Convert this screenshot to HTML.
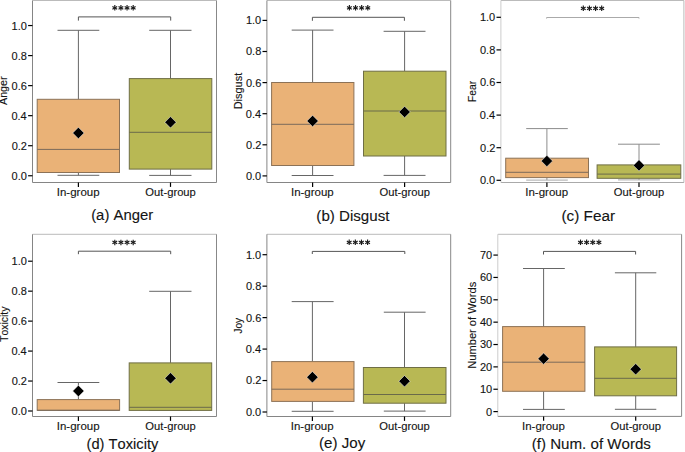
<!DOCTYPE html>
<html><head><meta charset="utf-8"><style>
html,body{margin:0;padding:0;background:#fff;}
body{width:685px;height:452px;overflow:hidden;}
svg{display:block;font-family:"Liberation Sans", sans-serif;font-kerning:none;}
text{stroke:#141414;stroke-width:0.12px;}
</style></head><body>
<svg width="685" height="452" viewBox="0 0 685 452">
<rect width="685" height="452" fill="#fff"/>
<line x1="32.50" y1="0.50" x2="216.50" y2="0.50" stroke="#bbb" stroke-width="1.0"/>
<line x1="216.50" y1="0.50" x2="216.50" y2="182.50" stroke="#888" stroke-width="1.0"/>
<line x1="32.50" y1="182.50" x2="216.50" y2="182.50" stroke="#858585" stroke-width="1.0"/>
<line x1="32.50" y1="0.50" x2="32.50" y2="182.50" stroke="#858585" stroke-width="1.0"/>
<line x1="28.10" y1="175.75" x2="32.50" y2="175.75" stroke="#000" stroke-width="1.2"/>
<text x="11.54" y="179.70" font-size="11.0" fill="#141414">0.0</text>
<line x1="28.10" y1="145.71" x2="32.50" y2="145.71" stroke="#000" stroke-width="1.2"/>
<text x="11.66" y="149.66" font-size="11.0" fill="#141414">0.2</text>
<line x1="28.10" y1="115.67" x2="32.50" y2="115.67" stroke="#000" stroke-width="1.2"/>
<text x="11.43" y="119.62" font-size="11.0" fill="#141414">0.4</text>
<line x1="28.10" y1="85.63" x2="32.50" y2="85.63" stroke="#000" stroke-width="1.2"/>
<text x="11.59" y="89.58" font-size="11.0" fill="#141414">0.6</text>
<line x1="28.10" y1="55.59" x2="32.50" y2="55.59" stroke="#000" stroke-width="1.2"/>
<text x="11.59" y="59.54" font-size="11.0" fill="#141414">0.8</text>
<line x1="28.10" y1="25.55" x2="32.50" y2="25.55" stroke="#000" stroke-width="1.2"/>
<text x="11.54" y="29.50" font-size="11.0" fill="#141414">1.0</text>
<line x1="78.40" y1="30.30" x2="78.40" y2="99.30" stroke="#666" stroke-width="1.0"/>
<line x1="78.40" y1="172.50" x2="78.40" y2="175.30" stroke="#666" stroke-width="1.0"/>
<line x1="57.50" y1="30.30" x2="99.30" y2="30.30" stroke="#666" stroke-width="1.0"/>
<line x1="57.50" y1="175.30" x2="99.30" y2="175.30" stroke="#666" stroke-width="1.0"/>
<rect x="37.20" y="99.30" width="82.30" height="73.20" fill="#EAB277" stroke="#8c7257" stroke-width="1.0"/>
<line x1="37.20" y1="149.40" x2="119.50" y2="149.40" stroke="#7a6a5a" stroke-width="1.0"/>
<path d="M78.40 127.30L84.10 133.00L78.40 138.70L72.70 133.00Z" fill="#000" stroke="#fff" stroke-width="0.5"/>
<line x1="78.40" y1="182.50" x2="78.40" y2="186.90" stroke="#000" stroke-width="1.2"/>
<line x1="170.50" y1="30.30" x2="170.50" y2="78.60" stroke="#666" stroke-width="1.0"/>
<line x1="170.50" y1="169.10" x2="170.50" y2="175.40" stroke="#666" stroke-width="1.0"/>
<line x1="149.20" y1="30.30" x2="191.50" y2="30.30" stroke="#666" stroke-width="1.0"/>
<line x1="149.20" y1="175.40" x2="191.50" y2="175.40" stroke="#666" stroke-width="1.0"/>
<rect x="129.30" y="78.60" width="82.50" height="90.50" fill="#B8B854" stroke="#6f6e45" stroke-width="1.0"/>
<line x1="129.30" y1="132.30" x2="211.80" y2="132.30" stroke="#6a6a4a" stroke-width="1.0"/>
<path d="M170.50 116.60L176.20 122.30L170.50 128.00L164.80 122.30Z" fill="#000" stroke="#fff" stroke-width="0.5"/>
<line x1="170.50" y1="182.50" x2="170.50" y2="186.90" stroke="#000" stroke-width="1.2"/>
<path d="M78.40 20.60V16.90H170.70V20.60" fill="none" stroke="#555" stroke-width="1"/>
<line x1="114.80" y1="5.05" x2="114.80" y2="10.55" stroke="#1a1a1a" stroke-width="1.15"/>
<line x1="112.42" y1="6.42" x2="117.18" y2="9.17" stroke="#1a1a1a" stroke-width="1.15"/>
<line x1="117.18" y1="6.42" x2="112.42" y2="9.17" stroke="#1a1a1a" stroke-width="1.15"/>
<line x1="120.93" y1="5.05" x2="120.93" y2="10.55" stroke="#1a1a1a" stroke-width="1.15"/>
<line x1="118.55" y1="6.42" x2="123.31" y2="9.17" stroke="#1a1a1a" stroke-width="1.15"/>
<line x1="123.31" y1="6.42" x2="118.55" y2="9.17" stroke="#1a1a1a" stroke-width="1.15"/>
<line x1="127.06" y1="5.05" x2="127.06" y2="10.55" stroke="#1a1a1a" stroke-width="1.15"/>
<line x1="124.68" y1="6.42" x2="129.44" y2="9.17" stroke="#1a1a1a" stroke-width="1.15"/>
<line x1="129.44" y1="6.42" x2="124.68" y2="9.17" stroke="#1a1a1a" stroke-width="1.15"/>
<line x1="133.19" y1="5.05" x2="133.19" y2="10.55" stroke="#1a1a1a" stroke-width="1.15"/>
<line x1="130.81" y1="6.42" x2="135.57" y2="9.17" stroke="#1a1a1a" stroke-width="1.15"/>
<line x1="135.57" y1="6.42" x2="130.81" y2="9.17" stroke="#1a1a1a" stroke-width="1.15"/>
<text x="56.74" y="195.90" font-size="10.9" fill="#141414" textLength="42.84" lengthAdjust="spacingAndGlyphs">In-group</text>
<text x="145.37" y="195.90" font-size="10.9" fill="#141414" textLength="50.50" lengthAdjust="spacingAndGlyphs">Out-group</text>
<text transform="translate(7.40 105.00) rotate(-90)" x="-0.02" y="0" font-size="10.9" fill="#141414" textLength="28.60" lengthAdjust="spacingAndGlyphs">Anger</text>
<text x="91.18" y="220.40" font-size="15.2" fill="#141414" textLength="61.97" lengthAdjust="spacingAndGlyphs">(a) Anger</text>
<line x1="266.90" y1="0.50" x2="450.70" y2="0.50" stroke="#bbb" stroke-width="1.0"/>
<line x1="450.70" y1="0.50" x2="450.70" y2="182.50" stroke="#888" stroke-width="1.0"/>
<line x1="266.90" y1="182.50" x2="450.70" y2="182.50" stroke="#858585" stroke-width="1.0"/>
<line x1="266.90" y1="0.50" x2="266.90" y2="182.50" stroke="#858585" stroke-width="1.0"/>
<line x1="262.50" y1="175.90" x2="266.90" y2="175.90" stroke="#000" stroke-width="1.2"/>
<text x="245.94" y="179.85" font-size="11.0" fill="#141414">0.0</text>
<line x1="262.50" y1="144.80" x2="266.90" y2="144.80" stroke="#000" stroke-width="1.2"/>
<text x="246.06" y="148.75" font-size="11.0" fill="#141414">0.2</text>
<line x1="262.50" y1="113.70" x2="266.90" y2="113.70" stroke="#000" stroke-width="1.2"/>
<text x="245.83" y="117.65" font-size="11.0" fill="#141414">0.4</text>
<line x1="262.50" y1="82.60" x2="266.90" y2="82.60" stroke="#000" stroke-width="1.2"/>
<text x="245.99" y="86.55" font-size="11.0" fill="#141414">0.6</text>
<line x1="262.50" y1="51.50" x2="266.90" y2="51.50" stroke="#000" stroke-width="1.2"/>
<text x="245.99" y="55.45" font-size="11.0" fill="#141414">0.8</text>
<line x1="262.50" y1="20.40" x2="266.90" y2="20.40" stroke="#000" stroke-width="1.2"/>
<text x="245.94" y="24.35" font-size="11.0" fill="#141414">1.0</text>
<line x1="312.60" y1="30.10" x2="312.60" y2="82.50" stroke="#666" stroke-width="1.0"/>
<line x1="312.60" y1="165.50" x2="312.60" y2="175.50" stroke="#666" stroke-width="1.0"/>
<line x1="291.70" y1="30.10" x2="333.50" y2="30.10" stroke="#666" stroke-width="1.0"/>
<line x1="291.70" y1="175.50" x2="333.50" y2="175.50" stroke="#666" stroke-width="1.0"/>
<rect x="271.60" y="82.50" width="82.30" height="83.00" fill="#EAB277" stroke="#8c7257" stroke-width="1.0"/>
<line x1="271.60" y1="124.30" x2="353.90" y2="124.30" stroke="#7a6a5a" stroke-width="1.0"/>
<path d="M312.60 115.30L318.30 121.00L312.60 126.70L306.90 121.00Z" fill="#000" stroke="#fff" stroke-width="0.5"/>
<line x1="312.60" y1="182.50" x2="312.60" y2="186.90" stroke="#000" stroke-width="1.2"/>
<line x1="404.60" y1="31.30" x2="404.60" y2="71.20" stroke="#666" stroke-width="1.0"/>
<line x1="404.60" y1="156.00" x2="404.60" y2="175.40" stroke="#666" stroke-width="1.0"/>
<line x1="383.60" y1="31.30" x2="425.50" y2="31.30" stroke="#666" stroke-width="1.0"/>
<line x1="383.60" y1="175.40" x2="425.50" y2="175.40" stroke="#666" stroke-width="1.0"/>
<rect x="363.50" y="71.20" width="82.50" height="84.80" fill="#B8B854" stroke="#6f6e45" stroke-width="1.0"/>
<line x1="363.50" y1="111.00" x2="446.00" y2="111.00" stroke="#6a6a4a" stroke-width="1.0"/>
<path d="M404.60 106.30L410.30 112.00L404.60 117.70L398.90 112.00Z" fill="#000" stroke="#fff" stroke-width="0.5"/>
<line x1="404.60" y1="182.50" x2="404.60" y2="186.90" stroke="#000" stroke-width="1.2"/>
<path d="M312.40 20.80V17.30H404.40V20.80" fill="none" stroke="#555" stroke-width="1"/>
<line x1="349.40" y1="5.05" x2="349.40" y2="10.55" stroke="#1a1a1a" stroke-width="1.15"/>
<line x1="347.02" y1="6.42" x2="351.78" y2="9.17" stroke="#1a1a1a" stroke-width="1.15"/>
<line x1="351.78" y1="6.42" x2="347.02" y2="9.17" stroke="#1a1a1a" stroke-width="1.15"/>
<line x1="355.53" y1="5.05" x2="355.53" y2="10.55" stroke="#1a1a1a" stroke-width="1.15"/>
<line x1="353.15" y1="6.42" x2="357.91" y2="9.17" stroke="#1a1a1a" stroke-width="1.15"/>
<line x1="357.91" y1="6.42" x2="353.15" y2="9.17" stroke="#1a1a1a" stroke-width="1.15"/>
<line x1="361.66" y1="5.05" x2="361.66" y2="10.55" stroke="#1a1a1a" stroke-width="1.15"/>
<line x1="359.28" y1="6.42" x2="364.04" y2="9.17" stroke="#1a1a1a" stroke-width="1.15"/>
<line x1="364.04" y1="6.42" x2="359.28" y2="9.17" stroke="#1a1a1a" stroke-width="1.15"/>
<line x1="367.79" y1="5.05" x2="367.79" y2="10.55" stroke="#1a1a1a" stroke-width="1.15"/>
<line x1="365.41" y1="6.42" x2="370.17" y2="9.17" stroke="#1a1a1a" stroke-width="1.15"/>
<line x1="370.17" y1="6.42" x2="365.41" y2="9.17" stroke="#1a1a1a" stroke-width="1.15"/>
<text x="290.94" y="195.90" font-size="10.9" fill="#141414" textLength="42.84" lengthAdjust="spacingAndGlyphs">In-group</text>
<text x="379.47" y="195.90" font-size="10.9" fill="#141414" textLength="50.50" lengthAdjust="spacingAndGlyphs">Out-group</text>
<text transform="translate(241.90 108.40) rotate(-90)" x="-0.90" y="0" font-size="10.9" fill="#141414" textLength="36.48" lengthAdjust="spacingAndGlyphs">Disgust</text>
<text x="316.36" y="220.70" font-size="15.2" fill="#141414" textLength="73.05" lengthAdjust="spacingAndGlyphs">(b) Disgust</text>
<line x1="500.90" y1="0.50" x2="683.90" y2="0.50" stroke="#bbb" stroke-width="1.0"/>
<line x1="683.90" y1="0.50" x2="683.90" y2="182.50" stroke="#bbb" stroke-width="1.0"/>
<line x1="500.90" y1="182.50" x2="683.90" y2="182.50" stroke="#aaa" stroke-width="1.0"/>
<line x1="500.90" y1="0.50" x2="500.90" y2="182.50" stroke="#ccc" stroke-width="1.0"/>
<line x1="496.50" y1="180.30" x2="500.90" y2="180.30" stroke="#000" stroke-width="1.2"/>
<text x="479.94" y="184.25" font-size="11.0" fill="#141414">0.0</text>
<line x1="496.50" y1="147.70" x2="500.90" y2="147.70" stroke="#000" stroke-width="1.2"/>
<text x="480.06" y="151.65" font-size="11.0" fill="#141414">0.2</text>
<line x1="496.50" y1="115.10" x2="500.90" y2="115.10" stroke="#000" stroke-width="1.2"/>
<text x="479.83" y="119.05" font-size="11.0" fill="#141414">0.4</text>
<line x1="496.50" y1="82.50" x2="500.90" y2="82.50" stroke="#000" stroke-width="1.2"/>
<text x="479.99" y="86.45" font-size="11.0" fill="#141414">0.6</text>
<line x1="496.50" y1="49.90" x2="500.90" y2="49.90" stroke="#000" stroke-width="1.2"/>
<text x="479.99" y="53.85" font-size="11.0" fill="#141414">0.8</text>
<line x1="496.50" y1="17.30" x2="500.90" y2="17.30" stroke="#000" stroke-width="1.2"/>
<text x="479.94" y="21.25" font-size="11.0" fill="#141414">1.0</text>
<line x1="546.90" y1="128.60" x2="546.90" y2="158.20" stroke="#8c8c8c" stroke-width="1.0"/>
<line x1="546.90" y1="177.60" x2="546.90" y2="180.10" stroke="#8c8c8c" stroke-width="1.0"/>
<line x1="526.20" y1="128.60" x2="567.80" y2="128.60" stroke="#8c8c8c" stroke-width="1.0"/>
<line x1="526.20" y1="180.10" x2="567.80" y2="180.10" stroke="#a8a8a8" stroke-width="1.0"/>
<rect x="505.70" y="158.20" width="82.80" height="19.40" fill="#EAB277" stroke="#8c7257" stroke-width="1.0"/>
<line x1="505.70" y1="172.30" x2="588.50" y2="172.30" stroke="#7a6a5a" stroke-width="1.0"/>
<path d="M546.90 155.30L552.60 161.00L546.90 166.70L541.20 161.00Z" fill="#000" stroke="#fff" stroke-width="0.5"/>
<line x1="546.90" y1="182.50" x2="546.90" y2="186.90" stroke="#000" stroke-width="1.2"/>
<line x1="639.00" y1="144.20" x2="639.00" y2="164.90" stroke="#8c8c8c" stroke-width="1.0"/>
<line x1="639.00" y1="178.30" x2="639.00" y2="179.90" stroke="#8c8c8c" stroke-width="1.0"/>
<line x1="618.00" y1="144.20" x2="659.90" y2="144.20" stroke="#8c8c8c" stroke-width="1.0"/>
<line x1="618.00" y1="179.90" x2="659.90" y2="179.90" stroke="#a8a8a8" stroke-width="1.0"/>
<rect x="597.10" y="164.90" width="83.70" height="13.40" fill="#B8B854" stroke="#6f6e45" stroke-width="1.0"/>
<line x1="597.10" y1="174.10" x2="680.80" y2="174.10" stroke="#6a6a4a" stroke-width="1.0"/>
<path d="M639.00 159.70L644.70 165.40L639.00 171.10L633.30 165.40Z" fill="#000" stroke="#fff" stroke-width="0.5"/>
<line x1="639.00" y1="182.50" x2="639.00" y2="186.90" stroke="#000" stroke-width="1.2"/>
<path d="M546.60 18.60V17.50H639.00V18.60" fill="none" stroke="#aaa" stroke-width="1"/>
<line x1="583.30" y1="5.55" x2="583.30" y2="11.05" stroke="#1a1a1a" stroke-width="1.15"/>
<line x1="580.92" y1="6.93" x2="585.68" y2="9.68" stroke="#1a1a1a" stroke-width="1.15"/>
<line x1="585.68" y1="6.93" x2="580.92" y2="9.68" stroke="#1a1a1a" stroke-width="1.15"/>
<line x1="589.43" y1="5.55" x2="589.43" y2="11.05" stroke="#1a1a1a" stroke-width="1.15"/>
<line x1="587.05" y1="6.93" x2="591.81" y2="9.68" stroke="#1a1a1a" stroke-width="1.15"/>
<line x1="591.81" y1="6.93" x2="587.05" y2="9.68" stroke="#1a1a1a" stroke-width="1.15"/>
<line x1="595.56" y1="5.55" x2="595.56" y2="11.05" stroke="#1a1a1a" stroke-width="1.15"/>
<line x1="593.18" y1="6.93" x2="597.94" y2="9.68" stroke="#1a1a1a" stroke-width="1.15"/>
<line x1="597.94" y1="6.93" x2="593.18" y2="9.68" stroke="#1a1a1a" stroke-width="1.15"/>
<line x1="601.69" y1="5.55" x2="601.69" y2="11.05" stroke="#1a1a1a" stroke-width="1.15"/>
<line x1="599.31" y1="6.93" x2="604.07" y2="9.68" stroke="#1a1a1a" stroke-width="1.15"/>
<line x1="604.07" y1="6.93" x2="599.31" y2="9.68" stroke="#1a1a1a" stroke-width="1.15"/>
<text x="525.24" y="195.90" font-size="10.9" fill="#141414" textLength="42.84" lengthAdjust="spacingAndGlyphs">In-group</text>
<text x="613.87" y="195.90" font-size="10.9" fill="#141414" textLength="50.50" lengthAdjust="spacingAndGlyphs">Out-group</text>
<text transform="translate(476.10 101.10) rotate(-90)" x="-0.84" y="0" font-size="10.9" fill="#141414" textLength="21.11" lengthAdjust="spacingAndGlyphs">Fear</text>
<text x="561.45" y="220.60" font-size="15.2" fill="#141414" textLength="53.60" lengthAdjust="spacingAndGlyphs">(c) Fear</text>
<line x1="32.50" y1="234.30" x2="216.50" y2="234.30" stroke="#bbb" stroke-width="1.0"/>
<line x1="216.50" y1="234.30" x2="216.50" y2="416.50" stroke="#888" stroke-width="1.0"/>
<line x1="32.50" y1="416.50" x2="216.50" y2="416.50" stroke="#858585" stroke-width="1.0"/>
<line x1="32.50" y1="234.30" x2="32.50" y2="416.50" stroke="#858585" stroke-width="1.0"/>
<line x1="28.10" y1="411.00" x2="32.50" y2="411.00" stroke="#000" stroke-width="1.2"/>
<text x="11.54" y="414.95" font-size="11.0" fill="#141414">0.0</text>
<line x1="28.10" y1="381.04" x2="32.50" y2="381.04" stroke="#000" stroke-width="1.2"/>
<text x="11.66" y="384.99" font-size="11.0" fill="#141414">0.2</text>
<line x1="28.10" y1="351.08" x2="32.50" y2="351.08" stroke="#000" stroke-width="1.2"/>
<text x="11.43" y="355.03" font-size="11.0" fill="#141414">0.4</text>
<line x1="28.10" y1="321.12" x2="32.50" y2="321.12" stroke="#000" stroke-width="1.2"/>
<text x="11.59" y="325.07" font-size="11.0" fill="#141414">0.6</text>
<line x1="28.10" y1="291.16" x2="32.50" y2="291.16" stroke="#000" stroke-width="1.2"/>
<text x="11.59" y="295.11" font-size="11.0" fill="#141414">0.8</text>
<line x1="28.10" y1="261.20" x2="32.50" y2="261.20" stroke="#000" stroke-width="1.2"/>
<text x="11.54" y="265.15" font-size="11.0" fill="#141414">1.0</text>
<line x1="78.40" y1="382.50" x2="78.40" y2="399.60" stroke="#666" stroke-width="1.0"/>
<line x1="78.40" y1="410.30" x2="78.40" y2="410.30" stroke="#666" stroke-width="1.0"/>
<line x1="57.50" y1="382.50" x2="99.30" y2="382.50" stroke="#666" stroke-width="1.0"/>
<line x1="57.50" y1="410.30" x2="99.30" y2="410.30" stroke="#666" stroke-width="1.0"/>
<rect x="37.20" y="399.60" width="82.40" height="10.70" fill="#EAB277" stroke="#8c7257" stroke-width="1.0"/>
<line x1="37.20" y1="410.30" x2="119.60" y2="410.30" stroke="#7a6a5a" stroke-width="1.0"/>
<path d="M78.40 385.30L84.10 391.00L78.40 396.70L72.70 391.00Z" fill="#000" stroke="#fff" stroke-width="0.5"/>
<line x1="78.40" y1="416.50" x2="78.40" y2="420.90" stroke="#000" stroke-width="1.2"/>
<line x1="170.50" y1="291.30" x2="170.50" y2="362.90" stroke="#666" stroke-width="1.0"/>
<line x1="170.50" y1="410.40" x2="170.50" y2="410.40" stroke="#666" stroke-width="1.0"/>
<line x1="149.20" y1="291.30" x2="191.50" y2="291.30" stroke="#666" stroke-width="1.0"/>
<line x1="149.20" y1="410.40" x2="191.50" y2="410.40" stroke="#666" stroke-width="1.0"/>
<rect x="129.20" y="362.90" width="82.50" height="47.50" fill="#B8B854" stroke="#6f6e45" stroke-width="1.0"/>
<line x1="129.20" y1="407.30" x2="211.70" y2="407.30" stroke="#6a6a4a" stroke-width="1.0"/>
<path d="M170.50 372.60L176.20 378.30L170.50 384.00L164.80 378.30Z" fill="#000" stroke="#fff" stroke-width="0.5"/>
<line x1="170.50" y1="416.50" x2="170.50" y2="420.90" stroke="#000" stroke-width="1.2"/>
<path d="M78.40 254.20V251.20H170.70V254.20" fill="none" stroke="#555" stroke-width="1"/>
<line x1="114.80" y1="239.65" x2="114.80" y2="245.15" stroke="#1a1a1a" stroke-width="1.15"/>
<line x1="112.42" y1="241.03" x2="117.18" y2="243.78" stroke="#1a1a1a" stroke-width="1.15"/>
<line x1="117.18" y1="241.03" x2="112.42" y2="243.78" stroke="#1a1a1a" stroke-width="1.15"/>
<line x1="120.93" y1="239.65" x2="120.93" y2="245.15" stroke="#1a1a1a" stroke-width="1.15"/>
<line x1="118.55" y1="241.03" x2="123.31" y2="243.78" stroke="#1a1a1a" stroke-width="1.15"/>
<line x1="123.31" y1="241.03" x2="118.55" y2="243.78" stroke="#1a1a1a" stroke-width="1.15"/>
<line x1="127.06" y1="239.65" x2="127.06" y2="245.15" stroke="#1a1a1a" stroke-width="1.15"/>
<line x1="124.68" y1="241.03" x2="129.44" y2="243.78" stroke="#1a1a1a" stroke-width="1.15"/>
<line x1="129.44" y1="241.03" x2="124.68" y2="243.78" stroke="#1a1a1a" stroke-width="1.15"/>
<line x1="133.19" y1="239.65" x2="133.19" y2="245.15" stroke="#1a1a1a" stroke-width="1.15"/>
<line x1="130.81" y1="241.03" x2="135.57" y2="243.78" stroke="#1a1a1a" stroke-width="1.15"/>
<line x1="135.57" y1="241.03" x2="130.81" y2="243.78" stroke="#1a1a1a" stroke-width="1.15"/>
<text x="56.74" y="429.90" font-size="10.9" fill="#141414" textLength="42.84" lengthAdjust="spacingAndGlyphs">In-group</text>
<text x="145.37" y="429.90" font-size="10.9" fill="#141414" textLength="50.50" lengthAdjust="spacingAndGlyphs">Out-group</text>
<text transform="translate(8.00 341.70) rotate(-90)" x="-0.23" y="0" font-size="10.9" fill="#141414" textLength="35.35" lengthAdjust="spacingAndGlyphs">Toxicity</text>
<text x="86.59" y="448.70" font-size="15.2" fill="#141414" textLength="71.74" lengthAdjust="spacingAndGlyphs">(d) Toxicity</text>
<line x1="266.90" y1="234.30" x2="450.70" y2="234.30" stroke="#bbb" stroke-width="1.0"/>
<line x1="450.70" y1="234.30" x2="450.70" y2="416.50" stroke="#888" stroke-width="1.0"/>
<line x1="266.90" y1="416.50" x2="450.70" y2="416.50" stroke="#858585" stroke-width="1.0"/>
<line x1="266.90" y1="234.30" x2="266.90" y2="416.50" stroke="#858585" stroke-width="1.0"/>
<line x1="262.50" y1="412.00" x2="266.90" y2="412.00" stroke="#000" stroke-width="1.2"/>
<text x="245.94" y="415.95" font-size="11.0" fill="#141414">0.0</text>
<line x1="262.50" y1="380.54" x2="266.90" y2="380.54" stroke="#000" stroke-width="1.2"/>
<text x="246.06" y="384.49" font-size="11.0" fill="#141414">0.2</text>
<line x1="262.50" y1="349.08" x2="266.90" y2="349.08" stroke="#000" stroke-width="1.2"/>
<text x="245.83" y="353.03" font-size="11.0" fill="#141414">0.4</text>
<line x1="262.50" y1="317.62" x2="266.90" y2="317.62" stroke="#000" stroke-width="1.2"/>
<text x="245.99" y="321.57" font-size="11.0" fill="#141414">0.6</text>
<line x1="262.50" y1="286.16" x2="266.90" y2="286.16" stroke="#000" stroke-width="1.2"/>
<text x="245.99" y="290.11" font-size="11.0" fill="#141414">0.8</text>
<line x1="262.50" y1="254.70" x2="266.90" y2="254.70" stroke="#000" stroke-width="1.2"/>
<text x="245.94" y="258.65" font-size="11.0" fill="#141414">1.0</text>
<line x1="312.40" y1="301.60" x2="312.40" y2="361.60" stroke="#666" stroke-width="1.0"/>
<line x1="312.40" y1="401.40" x2="312.40" y2="411.30" stroke="#666" stroke-width="1.0"/>
<line x1="291.70" y1="301.60" x2="333.60" y2="301.60" stroke="#666" stroke-width="1.0"/>
<line x1="291.70" y1="411.30" x2="333.60" y2="411.30" stroke="#666" stroke-width="1.0"/>
<rect x="271.70" y="361.60" width="82.30" height="39.80" fill="#EAB277" stroke="#8c7257" stroke-width="1.0"/>
<line x1="271.70" y1="389.20" x2="354.00" y2="389.20" stroke="#7a6a5a" stroke-width="1.0"/>
<path d="M312.40 371.50L318.10 377.20L312.40 382.90L306.70 377.20Z" fill="#000" stroke="#fff" stroke-width="0.5"/>
<line x1="312.40" y1="416.50" x2="312.40" y2="420.90" stroke="#000" stroke-width="1.2"/>
<line x1="404.50" y1="312.20" x2="404.50" y2="367.50" stroke="#666" stroke-width="1.0"/>
<line x1="404.50" y1="403.20" x2="404.50" y2="411.10" stroke="#666" stroke-width="1.0"/>
<line x1="383.80" y1="312.20" x2="425.60" y2="312.20" stroke="#666" stroke-width="1.0"/>
<line x1="383.80" y1="411.10" x2="425.60" y2="411.10" stroke="#666" stroke-width="1.0"/>
<rect x="363.40" y="367.50" width="82.60" height="35.70" fill="#B8B854" stroke="#6f6e45" stroke-width="1.0"/>
<line x1="363.40" y1="394.50" x2="446.00" y2="394.50" stroke="#6a6a4a" stroke-width="1.0"/>
<path d="M404.50 375.50L410.20 381.20L404.50 386.90L398.80 381.20Z" fill="#000" stroke="#fff" stroke-width="0.5"/>
<line x1="404.50" y1="416.50" x2="404.50" y2="420.90" stroke="#000" stroke-width="1.2"/>
<path d="M312.30 254.00V251.40H404.80V254.00" fill="none" stroke="#555" stroke-width="1"/>
<line x1="349.20" y1="239.55" x2="349.20" y2="245.05" stroke="#1a1a1a" stroke-width="1.15"/>
<line x1="346.82" y1="240.93" x2="351.58" y2="243.68" stroke="#1a1a1a" stroke-width="1.15"/>
<line x1="351.58" y1="240.93" x2="346.82" y2="243.68" stroke="#1a1a1a" stroke-width="1.15"/>
<line x1="355.33" y1="239.55" x2="355.33" y2="245.05" stroke="#1a1a1a" stroke-width="1.15"/>
<line x1="352.95" y1="240.93" x2="357.71" y2="243.68" stroke="#1a1a1a" stroke-width="1.15"/>
<line x1="357.71" y1="240.93" x2="352.95" y2="243.68" stroke="#1a1a1a" stroke-width="1.15"/>
<line x1="361.46" y1="239.55" x2="361.46" y2="245.05" stroke="#1a1a1a" stroke-width="1.15"/>
<line x1="359.08" y1="240.93" x2="363.84" y2="243.68" stroke="#1a1a1a" stroke-width="1.15"/>
<line x1="363.84" y1="240.93" x2="359.08" y2="243.68" stroke="#1a1a1a" stroke-width="1.15"/>
<line x1="367.59" y1="239.55" x2="367.59" y2="245.05" stroke="#1a1a1a" stroke-width="1.15"/>
<line x1="365.21" y1="240.93" x2="369.97" y2="243.68" stroke="#1a1a1a" stroke-width="1.15"/>
<line x1="369.97" y1="240.93" x2="365.21" y2="243.68" stroke="#1a1a1a" stroke-width="1.15"/>
<text x="290.74" y="429.90" font-size="10.9" fill="#141414" textLength="42.84" lengthAdjust="spacingAndGlyphs">In-group</text>
<text x="379.37" y="429.90" font-size="10.9" fill="#141414" textLength="50.50" lengthAdjust="spacingAndGlyphs">Out-group</text>
<text transform="translate(242.00 333.40) rotate(-90)" x="-0.16" y="0" font-size="10.9" fill="#141414" textLength="15.58" lengthAdjust="spacingAndGlyphs">Joy</text>
<text x="319.06" y="448.40" font-size="15.2" fill="#141414" textLength="46.17" lengthAdjust="spacingAndGlyphs">(e) Joy</text>
<line x1="497.80" y1="234.30" x2="681.60" y2="234.30" stroke="#bbb" stroke-width="1.0"/>
<line x1="681.60" y1="234.30" x2="681.60" y2="416.40" stroke="#888" stroke-width="1.0"/>
<line x1="497.80" y1="416.40" x2="681.60" y2="416.40" stroke="#858585" stroke-width="1.0"/>
<line x1="497.80" y1="234.30" x2="497.80" y2="416.40" stroke="#ccc" stroke-width="1.0"/>
<line x1="493.40" y1="411.60" x2="497.80" y2="411.60" stroke="#000" stroke-width="1.2"/>
<text x="486.01" y="415.55" font-size="11.0" fill="#141414">0</text>
<line x1="493.40" y1="389.24" x2="497.80" y2="389.24" stroke="#000" stroke-width="1.2"/>
<text x="479.89" y="393.19" font-size="11.0" fill="#141414">10</text>
<line x1="493.40" y1="366.88" x2="497.80" y2="366.88" stroke="#000" stroke-width="1.2"/>
<text x="479.89" y="370.83" font-size="11.0" fill="#141414">20</text>
<line x1="493.40" y1="344.52" x2="497.80" y2="344.52" stroke="#000" stroke-width="1.2"/>
<text x="479.89" y="348.47" font-size="11.0" fill="#141414">30</text>
<line x1="493.40" y1="322.16" x2="497.80" y2="322.16" stroke="#000" stroke-width="1.2"/>
<text x="479.89" y="326.11" font-size="11.0" fill="#141414">40</text>
<line x1="493.40" y1="299.80" x2="497.80" y2="299.80" stroke="#000" stroke-width="1.2"/>
<text x="479.89" y="303.75" font-size="11.0" fill="#141414">50</text>
<line x1="493.40" y1="277.44" x2="497.80" y2="277.44" stroke="#000" stroke-width="1.2"/>
<text x="479.89" y="281.39" font-size="11.0" fill="#141414">60</text>
<line x1="493.40" y1="255.08" x2="497.80" y2="255.08" stroke="#000" stroke-width="1.2"/>
<text x="479.89" y="259.03" font-size="11.0" fill="#141414">70</text>
<line x1="543.60" y1="268.50" x2="543.60" y2="326.60" stroke="#666" stroke-width="1.0"/>
<line x1="543.60" y1="391.30" x2="543.60" y2="409.40" stroke="#666" stroke-width="1.0"/>
<line x1="523.00" y1="268.50" x2="564.80" y2="268.50" stroke="#666" stroke-width="1.0"/>
<line x1="523.00" y1="409.40" x2="564.80" y2="409.40" stroke="#666" stroke-width="1.0"/>
<rect x="502.60" y="326.60" width="82.30" height="64.70" fill="#EAB277" stroke="#8c7257" stroke-width="1.0"/>
<line x1="502.60" y1="362.20" x2="584.90" y2="362.20" stroke="#7a6a5a" stroke-width="1.0"/>
<path d="M543.60 353.00L549.30 358.70L543.60 364.40L537.90 358.70Z" fill="#000" stroke="#fff" stroke-width="0.5"/>
<line x1="543.60" y1="416.40" x2="543.60" y2="420.80" stroke="#000" stroke-width="1.2"/>
<line x1="635.70" y1="272.80" x2="635.70" y2="346.90" stroke="#666" stroke-width="1.0"/>
<line x1="635.70" y1="395.80" x2="635.70" y2="409.30" stroke="#666" stroke-width="1.0"/>
<line x1="614.90" y1="272.80" x2="656.30" y2="272.80" stroke="#666" stroke-width="1.0"/>
<line x1="614.90" y1="409.30" x2="656.30" y2="409.30" stroke="#666" stroke-width="1.0"/>
<rect x="594.60" y="346.90" width="82.00" height="48.90" fill="#B8B854" stroke="#6f6e45" stroke-width="1.0"/>
<line x1="594.60" y1="378.30" x2="676.60" y2="378.30" stroke="#6a6a4a" stroke-width="1.0"/>
<path d="M635.70 363.50L641.40 369.20L635.70 374.90L630.00 369.20Z" fill="#000" stroke="#fff" stroke-width="0.5"/>
<line x1="635.70" y1="416.40" x2="635.70" y2="420.80" stroke="#000" stroke-width="1.2"/>
<path d="M543.50 254.50V251.40H635.60V254.50" fill="none" stroke="#555" stroke-width="1"/>
<line x1="580.50" y1="239.55" x2="580.50" y2="245.05" stroke="#1a1a1a" stroke-width="1.15"/>
<line x1="578.12" y1="240.93" x2="582.88" y2="243.68" stroke="#1a1a1a" stroke-width="1.15"/>
<line x1="582.88" y1="240.93" x2="578.12" y2="243.68" stroke="#1a1a1a" stroke-width="1.15"/>
<line x1="586.63" y1="239.55" x2="586.63" y2="245.05" stroke="#1a1a1a" stroke-width="1.15"/>
<line x1="584.25" y1="240.93" x2="589.01" y2="243.68" stroke="#1a1a1a" stroke-width="1.15"/>
<line x1="589.01" y1="240.93" x2="584.25" y2="243.68" stroke="#1a1a1a" stroke-width="1.15"/>
<line x1="592.76" y1="239.55" x2="592.76" y2="245.05" stroke="#1a1a1a" stroke-width="1.15"/>
<line x1="590.38" y1="240.93" x2="595.14" y2="243.68" stroke="#1a1a1a" stroke-width="1.15"/>
<line x1="595.14" y1="240.93" x2="590.38" y2="243.68" stroke="#1a1a1a" stroke-width="1.15"/>
<line x1="598.89" y1="239.55" x2="598.89" y2="245.05" stroke="#1a1a1a" stroke-width="1.15"/>
<line x1="596.51" y1="240.93" x2="601.27" y2="243.68" stroke="#1a1a1a" stroke-width="1.15"/>
<line x1="601.27" y1="240.93" x2="596.51" y2="243.68" stroke="#1a1a1a" stroke-width="1.15"/>
<text x="522.04" y="429.80" font-size="10.9" fill="#141414" textLength="42.84" lengthAdjust="spacingAndGlyphs">In-group</text>
<text x="610.57" y="429.80" font-size="10.9" fill="#141414" textLength="50.50" lengthAdjust="spacingAndGlyphs">Out-group</text>
<text transform="translate(476.40 367.80) rotate(-90)" x="-0.91" y="0" font-size="10.9" fill="#141414" textLength="86.91" lengthAdjust="spacingAndGlyphs">Number of Words</text>
<text x="531.76" y="448.60" font-size="15.2" fill="#141414" textLength="119.18" lengthAdjust="spacingAndGlyphs">(f) Num. of Words</text>
</svg>
</body></html>
